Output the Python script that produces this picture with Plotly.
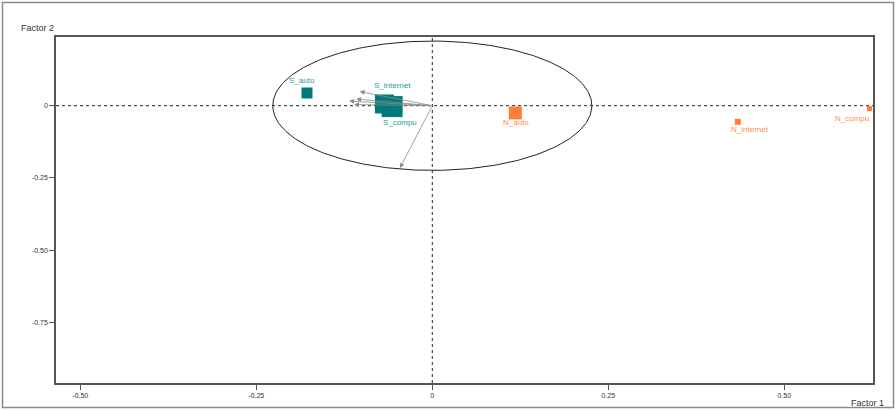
import plotly.graph_objects as go
import numpy as np

# ---- data ----
s_labels = ["S_auto", "S_internet", "S_compu"]
s_x = [-0.178, -0.068, -0.057]
s_y = [0.044, 0.006, -0.003]
s_size = [11, 19, 21]

n_labels = ["N_auto", "N_internet", "N_compu"]
n_x = [0.118, 0.434, 0.621]
n_y = [-0.025, -0.056, -0.010]
n_size = [13, 6, 5]

arrow_x = [-0.103, -0.118, -0.108, -0.111, -0.046]
arrow_y = [0.049, 0.016, 0.023, 0.004, -0.216]

circle_rx = 0.2266
circle_ry = 0.224

x_ticks = [-0.50, -0.25, 0, 0.25, 0.50]
x_ticktext = ["-0.50", "-0.25", "0", "0.25", "0.50"]
y_ticks = [0, -0.25, -0.50, -0.75]
y_ticktext = ["0", "-0.25", "-0.50", "-0.75"]

# ---- style ----
TEAL = "#007a7a"
TEAL_TXT = "#1f9a9a"
ORANGE = "#ff7f3a"
ORANGE_TXT = "#ff8c4d"
FONT = "Liberation Sans"

W, H = 895, 410
L, R, T, B = 56, 22, 37, 27

fig = go.Figure()

# correlation circle
t = np.linspace(0, 2 * np.pi, 361)
fig.add_trace(go.Scatter(x=circle_rx * np.cos(t), y=circle_ry * np.sin(t), mode="lines",
                         line=dict(color="#222222", width=1), hoverinfo="skip", showlegend=False))

fig.add_trace(go.Scatter(x=s_x, y=s_y, mode="markers",
                         marker=dict(symbol="square", size=s_size, color=TEAL, opacity=1,
                                     line=dict(width=0)),
                         showlegend=False))
fig.add_trace(go.Scatter(x=n_x, y=n_y, mode="markers",
                         marker=dict(symbol="square", size=n_size, color=ORANGE, opacity=1,
                                     line=dict(width=0)),
                         showlegend=False))

annotations = []
for ax_, ay_ in zip(arrow_x, arrow_y):
    annotations.append(dict(x=ax_, y=ay_, ax=0, ay=0, xref="x", yref="y", axref="x", ayref="y",
                            showarrow=True, arrowhead=2, arrowsize=1.2, arrowwidth=0.8,
                            arrowcolor="#8a8a8a", text=""))

# label placement (pixel shifts, anchor)
s_place = [(-5, 13, "center"), (8, 18, "center"), (8, -16, "center")]
n_place = [(1, -10, "center"), (12, -8, "center"), (2, -10, "right")]
for lab, x, y, (dx, dy, anc) in zip(s_labels, s_x, s_y, s_place):
    annotations.append(dict(x=x, y=y, xref="x", yref="y", text=lab, showarrow=False,
                            xanchor=anc, xshift=dx, yshift=dy,
                            font=dict(family=FONT, size=8, color=TEAL_TXT)))
for lab, x, y, (dx, dy, anc) in zip(n_labels, n_x, n_y, n_place):
    annotations.append(dict(x=x, y=y, xref="x", yref="y", text=lab, showarrow=False,
                            xanchor=anc, xshift=dx, yshift=dy,
                            font=dict(family=FONT, size=8, color=ORANGE_TXT)))

pw, ph = W - L - R, H - T - B
def px(xp):
    return (xp - L) / pw
def py(yp):
    return (H - B - yp) / ph

annotations.append(dict(x=px(37), y=py(28), xref="paper", yref="paper", text="Factor 2",
                        xanchor="center", yanchor="middle",
                        showarrow=False, font=dict(family=FONT, size=9, color="#333333")))
annotations.append(dict(x=px(867), y=py(403), xref="paper", yref="paper", text="Factor 1",
                        xanchor="center", yanchor="middle",
                        showarrow=False, font=dict(family=FONT, size=9, color="#333333")))

fig.update_layout(
    width=W, height=H,
    margin=dict(l=L, r=R, t=T, b=B, pad=0),
    paper_bgcolor="white", plot_bgcolor="white",
    annotations=annotations,
    font=dict(family=FONT, size=8, color="#333333"),
    xaxis=dict(range=[-0.5345, 0.626], tickvals=x_ticks, ticktext=x_ticktext,
               showgrid=False, zeroline=False, showline=True, mirror=True,
               linecolor="#555555", linewidth=1.5, ticks="outside", ticklen=5,
               tickcolor="#555555", tickfont=dict(size=7, color="#333333")),
    yaxis=dict(range=[-0.9605, 0.238], tickvals=y_ticks, ticktext=y_ticktext,
               showgrid=False, zeroline=False, showline=True, mirror=True,
               linecolor="#555555", linewidth=1.5, ticks="outside", ticklen=5,
               tickcolor="#555555", tickfont=dict(size=7, color="#333333")),
)

# outer frame and zero lines
fig.add_shape(type="rect", xref="paper", yref="paper", x0=px(2.5), x1=px(893.5), y0=py(407.5),
              y1=py(2.5), line=dict(color="#8a8a8a", width=1.5, dash="solid"), layer="below")
fig.add_shape(type="line", xref="paper", yref="y", x0=0, x1=1, y0=0, y1=0, layer="below",
              line=dict(color="#222222", width=1, dash="dot"))
fig.add_shape(type="line", xref="x", yref="paper", x0=0, x1=0, y0=0, y1=1, layer="below",
              line=dict(color="#222222", width=1, dash="dot"))

fig.write_html("out.html", config={"displayModeBar": False},
               post_script="document.body.style.margin='0';")
